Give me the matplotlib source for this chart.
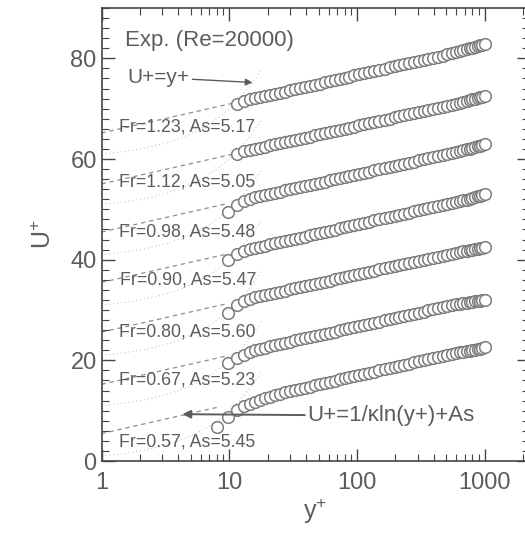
import numpy as np
import matplotlib
matplotlib.use("Agg")
import matplotlib.pyplot as plt
from matplotlib.ticker import MultipleLocator, FixedLocator, LogLocator, NullFormatter

plt.rcParams["font.family"] = ["Liberation Sans", "DejaVu Sans"]
plt.rcParams["mathtext.default"] = "regular"

# measurement positions (wall units), shared by all cases
YPLUS = [8, 9.7, 11.6, 13, 14.5, 16, 17.5, 19, 21, 23,
         25, 27.5, 30, 33, 36, 39, 43, 47, 51, 56,
         61, 67, 73, 80, 87, 95, 104, 114, 125, 137,
         150, 165, 180, 197, 215, 235, 257, 280, 305, 333,
         362, 395, 430, 468, 510, 555, 600, 640, 680, 720,
         760, 800, 840, 880, 920, 960, 1000]

FROUDE = ["0.57", "0.67", "0.80", "0.90", "0.98", "1.12", "1.23"]
AS = [5.45, 5.23, 5.60, 5.47, 5.48, 5.05, 5.17]
SHIFT = [0, 10, 20, 30, 40, 50, 60]   # vertical shift of each profile

# U+ profiles (unshifted), aligned to the tail of YPLUS
U_057 = [6.7, 8.7, 10.2, 10.9, 11.4, 11.8, 12.2, 12.5, 12.8, 13.1,
         13.4, 13.7, 13.9, 14.2, 14.4, 14.6, 14.8, 15.1, 15.3, 15.5,
         15.7, 15.9, 16.2, 16.4, 16.6, 16.8, 17.1, 17.3, 17.5, 17.7,
         18.0, 18.2, 18.4, 18.7, 18.9, 19.1, 19.3, 19.6, 19.8, 20.0,
         20.2, 20.4, 20.6, 20.8, 21.0, 21.2, 21.4, 21.6, 21.7, 21.8,
         21.9, 22.0, 22.1, 22.2, 22.3, 22.4, 22.6]
U_067 = [9.4, 10.4, 11.1, 11.6, 12.0, 12.3, 12.5, 12.8, 13.0,
         13.2, 13.5, 13.7, 14.0, 14.2, 14.4, 14.6, 14.9, 15.0, 15.3,
         15.5, 15.7, 16.0, 16.2, 16.4, 16.6, 16.8, 17.0, 17.3, 17.5,
         17.7, 18.0, 18.2, 18.4, 18.6, 18.9, 19.1, 19.3, 19.5, 19.7,
         20.0, 20.2, 20.4, 20.6, 20.8, 20.9, 21.1, 21.2, 21.3, 21.4,
         21.5, 21.6, 21.7, 21.7, 21.8, 21.9, 22.0]
U_080 = [9.4, 11.0, 11.8, 12.2, 12.5, 12.7, 12.9, 13.2, 13.4,
         13.6, 13.8, 14.1, 14.3, 14.5, 14.7, 14.9, 15.2, 15.4, 15.6,
         15.8, 16.1, 16.3, 16.5, 16.7, 16.9, 17.2, 17.4, 17.6, 17.8,
         18.1, 18.3, 18.5, 18.7, 19.0, 19.2, 19.4, 19.6, 19.8, 20.0,
         20.2, 20.4, 20.6, 20.8, 21.0, 21.2, 21.4, 21.5, 21.7, 21.8,
         21.9, 22.0, 22.1, 22.2, 22.3, 22.4, 22.5]
U_090 = [10.0, 11.1, 11.7, 12.1, 12.4, 12.6, 12.8, 13.1, 13.3,
         13.5, 13.7, 14.0, 14.2, 14.4, 14.6, 14.9, 15.1, 15.3, 15.5,
         15.7, 15.9, 16.2, 16.4, 16.6, 16.9, 17.1, 17.3, 17.5, 17.8,
         18.0, 18.2, 18.4, 18.7, 18.9, 19.1, 19.3, 19.6, 19.8, 20.0,
         20.2, 20.4, 20.6, 20.8, 21.0, 21.2, 21.4, 21.6, 21.8, 21.9,
         22.1, 22.3, 22.4, 22.6, 22.7, 22.9, 23.1]
U_098 = [9.4, 10.9, 11.6, 12.1, 12.4, 12.6, 12.9, 13.1, 13.3,
         13.5, 13.8, 14.0, 14.2, 14.4, 14.6, 14.9, 15.1, 15.3, 15.5,
         15.8, 16.0, 16.2, 16.4, 16.6, 16.9, 17.1, 17.3, 17.5, 17.8,
         18.0, 18.2, 18.4, 18.7, 18.9, 19.1, 19.3, 19.5, 19.8, 20.0,
         20.2, 20.4, 20.6, 20.8, 21.0, 21.2, 21.4, 21.6, 21.8, 21.9,
         22.0, 22.2, 22.3, 22.5, 22.6, 22.7, 22.9]
U_112 = [10.9, 11.5, 11.8, 12.0, 12.2, 12.4, 12.7, 12.9, 13.1,
         13.3, 13.5, 13.8, 14.0, 14.2, 14.4, 14.7, 14.9, 15.1, 15.3,
         15.5, 15.8, 16.0, 16.2, 16.4, 16.7, 16.9, 17.1, 17.3, 17.6,
         17.8, 18.0, 18.3, 18.5, 18.7, 18.9, 19.1, 19.4, 19.6, 19.8,
         20.0, 20.2, 20.4, 20.6, 20.8, 21.0, 21.2, 21.4, 21.6, 21.7,
         21.9, 22.0, 22.2, 22.3, 22.4, 22.6]
U_123 = [11.0, 11.6, 11.9, 12.1, 12.4, 12.6, 12.8, 13.0, 13.2,
         13.4, 13.7, 13.9, 14.1, 14.3, 14.6, 14.8, 15.0, 15.2, 15.4,
         15.7, 15.9, 16.1, 16.3, 16.6, 16.8, 17.0, 17.2, 17.5, 17.7,
         17.9, 18.2, 18.4, 18.6, 18.8, 19.0, 19.3, 19.5, 19.7, 19.9,
         20.1, 20.3, 20.5, 20.8, 21.0, 21.2, 21.4, 21.6, 21.8, 22.0,
         22.1, 22.3, 22.4, 22.6, 22.7, 22.9]
PROFILES = [U_057, U_067, U_080, U_090, U_098, U_112, U_123]

# where each case label sits (y+, shifted U+)
LABEL_POS = [(1.38, 3.8), (1.38, 16.1), (1.36, 25.6), (1.40, 35.9),
             (1.36, 45.4), (1.36, 55.4), (1.36, 66.3)]

KAPPA = 0.4
TXT = "#5c5c5c"
LINE = "#8e8e8e"
MARK = "#7c7c7c"

fig = plt.figure(figsize=(5.25, 5.36), dpi=100)
ax = fig.add_axes([101.5 / 525, 1 - 461 / 536, 427 / 525, 453 / 536])

for u, a_s, dy, fr, pos in zip(PROFILES, AS, SHIFT, FROUDE, LABEL_POS):
    yp = np.array(YPLUS[len(YPLUS) - len(u):], dtype=float)
    uu = np.array(u) + dy
    # log law, from the wall up to the first point
    yl = np.logspace(0, np.log10(yp[0]), 40)
    ax.plot(yl, np.log(yl) / KAPPA + a_s + dy, color=LINE, lw=0.9,
            dashes=(3.5, 3), zorder=1)
    # viscous sublayer U+ = y+
    yv = np.logspace(0, np.log10(18), 60)
    ax.plot(yv, yv + dy, color="#b8b8b8", lw=0.7, ls=(0, (1, 3)), zorder=1)
    ax.plot(yp, uu, "o", ms=8.4, mfc="white", mec=MARK, mew=1.1, zorder=3)
    ax.text(pos[0], pos[1], f"Fr={fr}, As={a_s:.2f}", fontsize=12.8,
            color=TXT, va="center", ha="left", zorder=4)

ax.text(1.52, 83.5, "Exp. (Re=20000)", fontsize=16, color=TXT,
        va="center", ha="left")
ax.annotate("U+=y+", xy=(15.2, 75.2), xytext=(1.6, 76.2), fontsize=15,
            color=TXT, va="center", ha="left",
            arrowprops=dict(arrowstyle="-|>", color=TXT, lw=1.0,
                            shrinkA=0, shrinkB=0, mutation_scale=10))
ax.annotate("U+=1/κln(y+)+As", xy=(4.3, 9.3), xytext=(41, 9.0),
            fontsize=16, color=TXT, va="center", ha="left",
            arrowprops=dict(arrowstyle="-|>", color=TXT, lw=1.4,
                            shrinkA=0, shrinkB=0, mutation_scale=12))

ax.set_xscale("log")
ax.set_xlim(1, 2200)
ax.set_ylim(0, 90)
ax.xaxis.set_major_locator(FixedLocator([1, 10, 100, 1000]))
ax.set_xticklabels(["1", "10", "100", "1000"])
ax.xaxis.set_minor_locator(LogLocator(base=10, subs=np.arange(2, 10)))
ax.xaxis.set_minor_formatter(NullFormatter())
ax.yaxis.set_major_locator(MultipleLocator(20))
ax.yaxis.set_minor_locator(MultipleLocator(2))

ax.tick_params(which="both", direction="in", top=True, right=True,
               colors="#444444", labelcolor=TXT, labelsize=17)
ax.tick_params(which="major", length=9, width=1.0)
ax.tick_params(which="minor", length=5, width=0.8)
ax.tick_params(axis="x", pad=8)
for s in ax.spines.values():
    s.set_color("#444444")
    s.set_linewidth(1.2)

ax.set_xlabel("y$^{+}$", fontsize=18, color=TXT, labelpad=2)
ax.set_ylabel("U$^{+}$", fontsize=18, color=TXT, labelpad=10)

fig.savefig("out.png", dpi=100)
